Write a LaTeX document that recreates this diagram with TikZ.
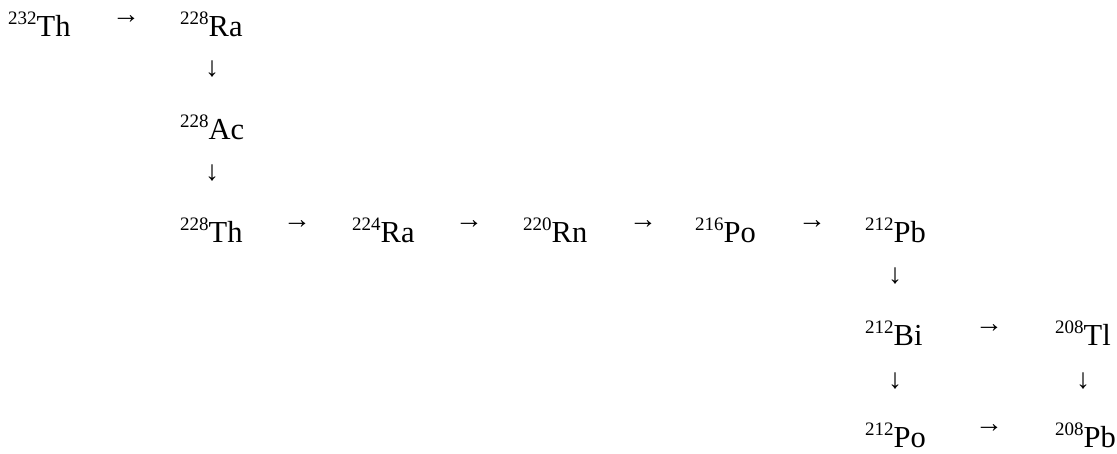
\documentclass[tikz,border=0pt]{standalone}
\usepackage{fontspec}
\setmainfont{Liberation Serif}
\newcommand\nucl[2]{\raisebox{11.5pt}{\fontsize{19}{19}\selectfont #1}{\fontsize{30.5}{30.5}\selectfont #2}}
\tikzset{
  nuclide/.style={inner sep=0pt, anchor=base west},
  harrow/.style={inner sep=0pt, anchor=center, font=\fontsize{28}{28}\selectfont},
  varrow/.style={inner sep=0pt, anchor=center, font=\fontsize{28}{28}\selectfont}
}
\begin{document}
\begin{tikzpicture}[x=1pt,y=-1pt]
\useasboundingbox (0,0) rectangle (1117,453);
% row 1
\node[nuclide] (th232) at (8,36) {\nucl{232}{Th}};
\node[harrow] (a1) at (126,20) {→};
\node[nuclide] (ra228) at (180,36) {\nucl{228}{Ra}};
\node[varrow] (d1) at (212,69) {↓};
% row 2
\node[nuclide] (ac228) at (180,139) {\nucl{228}{Ac}};
\node[varrow] (d2) at (212,173) {↓};
% row 3
\node[nuclide] (th228) at (180,242) {\nucl{228}{Th}};
\node[harrow] (a2) at (297,225) {→};
\node[nuclide] (ra224) at (352,242) {\nucl{224}{Ra}};
\node[harrow] (a3) at (469,225) {→};
\node[nuclide] (rn220) at (523,242) {\nucl{220}{Rn}};
\node[harrow] (a4) at (643,225) {→};
\node[nuclide] (po216) at (695,242) {\nucl{216}{Po}};
\node[harrow] (a5) at (812,225) {→};
\node[nuclide] (pb212) at (865,242) {\nucl{212}{Pb}};
\node[varrow] (d3) at (895,276) {↓};
% row 4
\node[nuclide] (bi212) at (865,345) {\nucl{212}{Bi}};
\node[harrow] (a6) at (989,329) {→};
\node[nuclide] (tl208) at (1055,345) {\nucl{208}{Tl}};
\node[varrow] (d4) at (895,381) {↓};
\node[varrow] (d5) at (1083,381) {↓};
% row 5
\node[nuclide] (po212) at (865,447) {\nucl{212}{Po}};
\node[harrow] (a7) at (989,429) {→};
\node[nuclide] (pb208) at (1055,447) {\nucl{208}{Pb}};
\end{tikzpicture}
\end{document}
